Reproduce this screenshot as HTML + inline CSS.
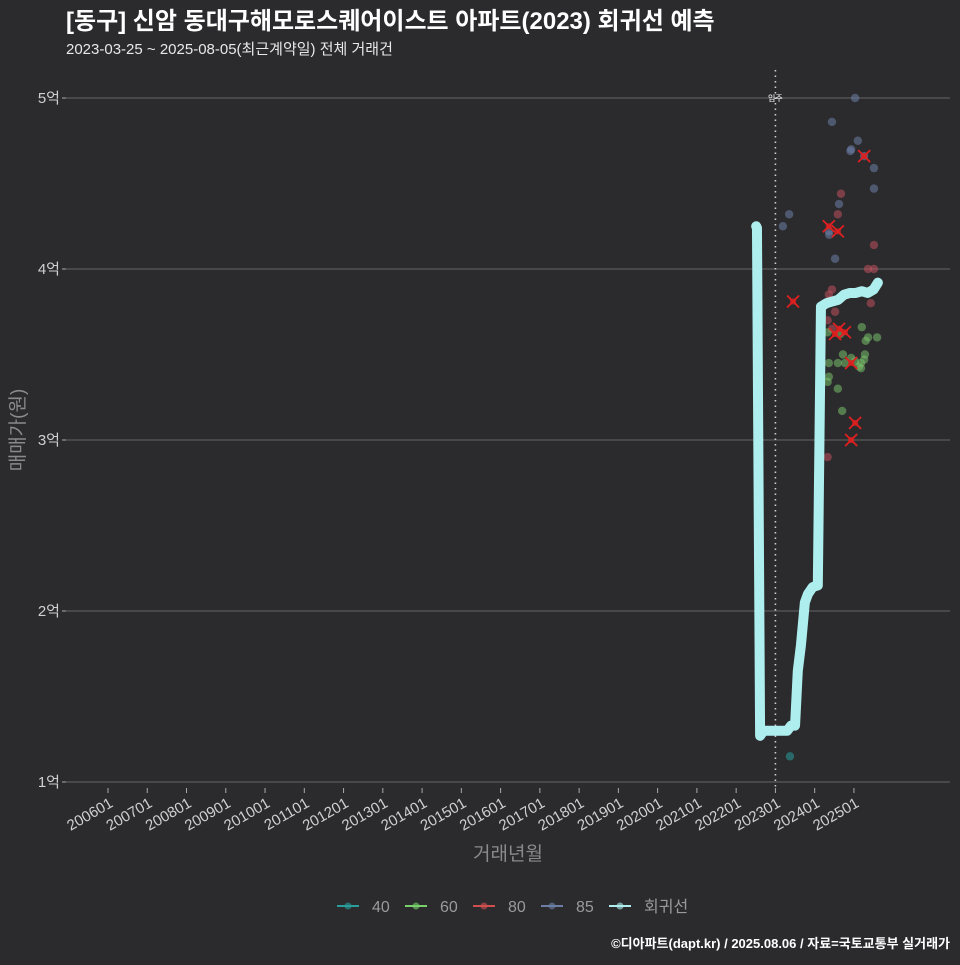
<!DOCTYPE html>
<html><head><meta charset="utf-8">
<style>
html,body{margin:0;padding:0;background:#2b2b2d;}
body{width:960px;height:960px;overflow:hidden;font-family:"Liberation Sans","Noto Sans CJK KR",sans-serif;}
</style></head>
<body>
<svg id="chart" width="960" height="960" xmlns="http://www.w3.org/2000/svg" style="font-family:'Liberation Sans','Noto Sans CJK KR',sans-serif">
<rect width="960" height="960" fill="#2b2b2d"/>
<text x="66" y="29" fill="#ffffff" font-size="24" font-weight="bold">[동구] 신암 동대구해모로스퀘어이스트 아파트(2023) 회귀선 예측</text>
<text x="66" y="54" fill="#e8e8e8" font-size="15">2023-03-25 ~ 2025-08-05(최근계약일) 전체 거래건</text>
<g id="grid"></g>
<g id="axes"></g>
<g id="marks"></g>
<text x="0" y="0" transform="translate(24,430) rotate(-90)" text-anchor="middle" fill="#8a8a8a" font-size="19">매매가(원)</text>
<text x="508" y="860" text-anchor="middle" fill="#8a8a8a" font-size="19">거래년월</text>
<g id="legend"></g>
<text x="950" y="948" text-anchor="end" fill="#ffffff" font-size="13" font-weight="bold">©디아파트(dapt.kr) / 2025.08.06 / 자료=국토교통부 실거래가</text>
</svg>
<script>
const yTicks=[1,2,3,4,5];
const yTickLabels=["1억","2억","3억","4억","5억"];
const xTicks=[2006,2007,2008,2009,2010,2011,2012,2013,2014,2015,2016,2017,2018,2019,2020,2021,2022,2023,2024,2025];
const xTickLabels=["200601","200701","200801","200901","201001","201101","201201","201301","201401","201501","201601","201701","201801","201901","202001","202101","202201","202301","202401","202501"];
const moveIn=2023.0;
const regT=[2022.51,2022.53,2022.61,2022.70,2023.20,2023.30,2023.40,2023.50,2023.57,2023.65,2023.75,2023.83,2023.95,2024.08,2024.16,2024.30,2024.45,2024.60,2024.75,2024.90,2025.05,2025.20,2025.35,2025.50,2025.61];
const regV=[4.25,4.24,1.27,1.30,1.30,1.30,1.33,1.33,1.65,1.80,2.05,2.10,2.14,2.15,3.78,3.80,3.81,3.82,3.85,3.86,3.86,3.87,3.86,3.88,3.92];
const t40=[2023.37];
const v40=[1.15];
const t60=[2024.33,2025.20,2025.36,2025.59,2025.26,2025.28,2025.18,2024.77,2024.59,2024.36,2024.72,2025.13,2025.18,2024.33,2024.59,2024.70,2024.36,2024.93,2025.03,2025.30,2024.65];
const v60=[3.63,3.66,3.60,3.60,3.47,3.50,3.45,3.45,3.45,3.45,3.50,3.43,3.42,3.34,3.30,3.17,3.37,3.48,3.46,3.58,3.62];
const t80=[2024.67,2024.59,2025.51,2025.36,2025.51,2024.44,2024.36,2024.40,2025.43,2024.52,2024.33,2024.44,2024.33];
const v80=[4.44,4.32,4.14,4.00,4.00,3.88,3.85,3.82,3.80,3.75,2.90,3.65,3.70];
const t85=[2025.03,2024.44,2025.10,2024.93,2025.26,2025.51,2025.51,2024.62,2023.35,2023.19,2024.36,2024.52,2024.37,2024.91];
const v85=[5.00,4.86,4.75,4.70,4.66,4.59,4.47,4.38,4.32,4.25,4.22,4.06,4.20,4.69];
const tX=[2024.36,2024.59,2025.26,2023.45,2024.62,2024.52,2024.77,2024.93,2025.03,2024.93];
const vX=[4.25,4.22,4.66,3.81,3.65,3.62,3.63,3.45,3.10,3.00];

const x=t=>108+(t-2006)*39.26;
const y=v=>782-(v-1)*171;
const NS="http://www.w3.org/2000/svg";
function mk(tag,attrs,parent){const e=document.createElementNS(NS,tag);for(const k in attrs)e.setAttribute(k,attrs[k]);parent.appendChild(e);return e;}
const grid=document.getElementById('grid'),axes=document.getElementById('axes'),marks=document.getElementById('marks'),legend=document.getElementById('legend');
yTicks.forEach((v,i)=>{
  const l=mk('line',{x1:66,x2:950,y1:y(v),y2:y(v),stroke:'#7a7a7a','stroke-width':0.8},grid);
  
  
  const tk=mk('line',{x1:62,x2:66,y1:y(v),y2:y(v),stroke:'#aaa'},axes);
  
  
  const t=mk('text',{x:60,y:y(v)+5,'text-anchor':'end',fill:'#d0d0d0','font-size':15},axes);
  t.textContent=yTickLabels[i];
  
  
});
xTicks.forEach((v,i)=>{
  const tk=mk('line',{x1:x(v),x2:x(v),y1:788,y2:793,stroke:'#aaa'},axes);
  
  
  const t=mk('text',{x:0,y:0,'text-anchor':'end',fill:'#d0d0d0','font-size':15,transform:`translate(${x(v)+6},${806}) rotate(-30)`},axes);
  t.textContent=xTickLabels[i];
  
  
});
const mv=mk('line',{x1:x(moveIn),x2:x(moveIn),y1:70,y2:790,stroke:'#cfcfcf','stroke-width':1.6,'stroke-dasharray':'1.5 4'},marks);


const mvt=mk('text',{x:x(moveIn),y:101,'text-anchor':'middle',fill:'#fff','font-size':8},marks);
mvt.textContent='입주';


function pts(ts,vs,col,name){ts.forEach((t,i)=>{
  const c=mk('circle',{cx:x(t),cy:y(vs[i]),r:4.2,fill:col,'fill-opacity':0.55},marks);
  
  
});}
pts(t85,v85,'#6c7ea6','point-85');
pts(t80,v80,'#c0505c','point-80');
pts(t60,v60,'#78c06a','point-60');
const reg=mk('path',{d:regT.map((t,i)=>(i?'L':'M')+x(t)+','+y(regV[i])).join(' '),fill:'none',stroke:'#aeeeee','stroke-width':10,'stroke-linejoin':'round','stroke-linecap':'round'},marks);


pts(t40,v40,'#2a9d9d','point-40');
tX.forEach((t,i)=>{
  const g=mk('g',{},marks);
  
  
  const cx=x(t),cy=y(vX[i]);
  mk('path',{d:`M${cx-6},${cy-6}L${cx+6},${cy+6}M${cx+6},${cy-6}L${cx-6},${cy+6}`,stroke:'#e02020','stroke-width':1.8},g);
  mk('rect',{x:cx-3,y:cy-3,width:6,height:6,fill:'#e02020','fill-opacity':0.7},g);
});
const legItems=[['40','#2a9d9d'],['60','#78d06a'],['80','#d05050'],['85','#6c7ea6'],['회귀선','#aeeeee']];
const legX=[337,405,473,541,609];
legItems.forEach((it,i)=>{
  const g=mk('g',{},legend);
  
  
  mk('line',{x1:legX[i],x2:legX[i]+22,y1:906,y2:906,stroke:it[1],'stroke-width':2},g);
  mk('circle',{cx:legX[i]+11,cy:906,r:3.5,fill:it[1],'fill-opacity':0.6},g);
  const t=mk('text',{x:legX[i]+35,y:912,fill:'#9a9a9a','font-size':16},g);
  t.textContent=it[0];
});
</script>
</body></html>
